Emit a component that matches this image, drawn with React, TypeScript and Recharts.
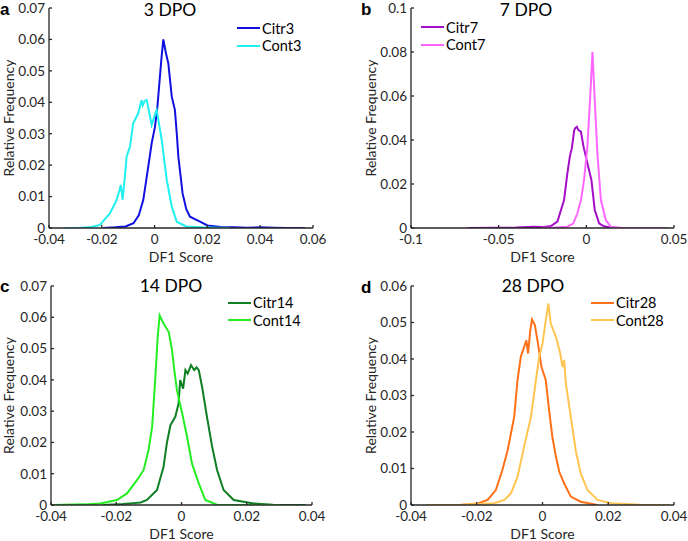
import React from 'react';
import { LineChart, Line, XAxis, YAxis, Legend, Label } from 'recharts';

type Pt = [number, number];

// ---- data (DF1 score, relative frequency) ----
const citr3: Pt[] = [[-0.0195,0],[-0.015,0.0002],[-0.011,0.0005],[-0.008,0.0015],[-0.006,0.004],[-0.0043,0.0089],[-0.0024,0.0195],[-0.0011,0.027],[0.0001,0.032],[0.001,0.038],[0.0018,0.046],[0.0026,0.054],[0.0033,0.06],[0.0042,0.056],[0.0052,0.0524],[0.0065,0.0418],[0.0077,0.0375],[0.0084,0.03],[0.009,0.0227],[0.0106,0.011],[0.012,0.006],[0.0134,0.0036],[0.0172,0.002],[0.02,0.0008],[0.025,0.0003],[0.03,0.0002],[0.035,0.0001],[0.04,0.0002],[0.045,0.0001],[0.05,0],[0.057,0]];
const cont3: Pt[] = [[-0.034,0],[-0.028,0.0001],[-0.024,0.0003],[-0.0207,0.001],[-0.0169,0.0047],[-0.0144,0.0089],[-0.0133,0.012],[-0.0128,0.0137],[-0.0121,0.009],[-0.0113,0.016],[-0.0106,0.0227],[-0.0093,0.026],[-0.0081,0.0333],[-0.0062,0.0365],[-0.0049,0.0407],[-0.0045,0.039],[-0.0037,0.0405],[-0.003,0.0407],[-0.0011,0.0328],[0.0003,0.0365],[0.0008,0.0375],[0.0015,0.034],[0.0027,0.028],[0.0046,0.0153],[0.0065,0.0068],[0.0084,0.002],[0.012,0.0005],[0.018,0.0002],[0.024,0.0001],[0.0286,0]];
const citr7: Pt[] = [[-0.0677,0],[-0.05,0.0001],[-0.04,0.0002],[-0.03,0.0006],[-0.025,0.0004],[-0.0202,0.0009],[-0.0165,0.0029],[-0.0127,0.0127],[-0.0108,0.0249],[-0.0095,0.032],[-0.0088,0.0347],[-0.0083,0.036],[-0.0069,0.0445],[-0.0062,0.0455],[-0.0054,0.046],[-0.0045,0.0445],[-0.0031,0.0438],[-0.0016,0.037],[0.0006,0.0294],[0.0029,0.0218],[0.0048,0.0082],[0.0073,0.0021],[0.01,0.0008],[0.013,0.0003],[0.018,0]];
const cont7: Pt[] = [[-0.026,0],[-0.018,0.0002],[-0.0108,0.0006],[-0.0075,0.002],[-0.0051,0.0067],[-0.003,0.013],[-0.0013,0.0218],[0.0006,0.037],[0.0021,0.058],[0.0035,0.08],[0.0048,0.058],[0.0063,0.034],[0.0083,0.0127],[0.0111,0.0036],[0.014,0.0005],[0.02,0.0001],[0.03,0],[0.046,0]];
const citr14: Pt[] = [[-0.024,0],[-0.018,0.0003],[-0.0147,0.0006],[-0.0125,0.0008],[-0.0106,0.0016],[-0.0075,0.0048],[-0.0055,0.0122],[-0.0045,0.0197],[-0.0034,0.0255],[-0.0019,0.0282],[-0.0009,0.0324],[-0.0004,0.0399],[0.0005,0.0372],[0.0012,0.0431],[0.0019,0.042],[0.0029,0.0447],[0.0039,0.0431],[0.0046,0.044],[0.0053,0.0431],[0.0063,0.0378],[0.0078,0.0282],[0.0094,0.0186],[0.0109,0.0112],[0.0129,0.0048],[0.016,0.0016],[0.0221,0.0005],[0.028,0.0001],[0.038,0]];
const cont14: Pt[] = [[-0.0397,0],[-0.03,0.0002],[-0.0249,0.0005],[-0.0198,0.0016],[-0.0167,0.0037],[-0.0136,0.008],[-0.0116,0.0112],[-0.0101,0.0176],[-0.009,0.025],[-0.008,0.041],[-0.0073,0.0537],[-0.0067,0.0606],[-0.0055,0.058],[-0.0039,0.0553],[-0.0029,0.0495],[-0.0022,0.0431],[-0.0014,0.0367],[0.0002,0.0293],[0.0017,0.0218],[0.0032,0.0133],[0.0053,0.0069],[0.0073,0.0016],[0.0109,0.0001],[0.02,0],[0.03,0]];
const citr28: Pt[] = [[-0.0248,0],[-0.0197,0.0004],[-0.0167,0.0014],[-0.0142,0.0041],[-0.0122,0.0096],[-0.0106,0.015],[-0.0086,0.0242],[-0.0076,0.0342],[-0.0066,0.0406],[-0.0056,0.0433],[-0.0049,0.0451],[-0.0044,0.0415],[-0.0037,0.0479],[-0.0032,0.0508],[-0.0023,0.0492],[-0.0013,0.0438],[-0.0003,0.0378],[0.001,0.0342],[0.002,0.026],[0.003,0.0187],[0.0041,0.0132],[0.0051,0.0091],[0.0066,0.0059],[0.0086,0.0023],[0.0116,0.0009],[0.0167,0]];
const cont28: Pt[] = [[-0.0354,0],[-0.025,0.0001],[-0.0147,0.0005],[-0.0116,0.0014],[-0.0096,0.0032],[-0.0076,0.0077],[-0.0056,0.016],[-0.0035,0.0242],[-0.002,0.0342],[-0.001,0.0406],[0,0.0442],[0.001,0.0506],[0.0018,0.0552],[0.0025,0.0497],[0.0041,0.046],[0.0054,0.0415],[0.0061,0.0378],[0.0066,0.0397],[0.0071,0.0333],[0.0086,0.0242],[0.0101,0.015],[0.0116,0.0087],[0.0137,0.0041],[0.0167,0.0014],[0.0208,0.0005],[0.03,0.0001],[0.0385,0]];

// ---- ticks ----
const xTicksA = [-0.04, -0.02, 0, 0.02, 0.04, 0.06];
const yTicksA = [0, 0.01, 0.02, 0.03, 0.04, 0.05, 0.06, 0.07];
const xTicksB = [-0.1, -0.05, 0, 0.05];
const yTicksB = [0, 0.02, 0.04, 0.06, 0.08, 0.1];
const xTicksC = [-0.04, -0.02, 0, 0.02, 0.04];
const yTicksC = [0, 0.01, 0.02, 0.03, 0.04, 0.05, 0.06, 0.07];
const xTicksD = [-0.04, -0.02, 0, 0.02, 0.04];
const yTicksD = [0, 0.01, 0.02, 0.03, 0.04, 0.05, 0.06];

const toRows = (pts: Pt[]) => pts.map(([x, y]) => ({ x, y }));

const FONT = 'Lato, "Noto Sans", sans-serif';
const AXIS = '#262626';

const renderLegend = (props: any) => {
  const { payload } = props;
  return (
    <div style={{ fontFamily: FONT }}>
      {(payload || []).map((p: any) => (
        <div key={p.value} style={{ display: 'flex', alignItems: 'center', height: 17.5 }}>
          <svg width={23} height={4} style={{ display: 'block' }}>
            <line x1={0} y1={2} x2={23} y2={2} stroke={p.color} strokeWidth={2} />
          </svg>
          <span style={{ marginLeft: 2, fontSize: 14.5, color: '#000', lineHeight: '17.5px' }}>{p.value}</span>
        </div>
      ))}
    </div>
  );
};

type PanelProps = {
  left: number; top: number; width: number; height: number;
  margin: { top: number; right: number; left: number; bottom: number };
  xAxisHeight: number;
  xDomain: [number, number]; yDomain: [number, number];
  xTicks: number[]; yTicks: number[];
  series: { name: string; color: string; pts: Pt[] }[];
  legendPos: { left: number; top: number };
  yLabelOffset: number; xLabelOffset: number;
};

function Panel(p: PanelProps) {
  return (
    <div style={{ position: 'absolute', left: p.left, top: p.top }}>
      <LineChart width={p.width} height={p.height} margin={p.margin}>
        <XAxis
          dataKey="x" type="number" domain={p.xDomain} ticks={p.xTicks} allowDataOverflow
          height={p.xAxisHeight} stroke={AXIS} strokeWidth={1.3}
          tickSize={-3} tickMargin={9}
          tick={{ fill: AXIS, fontSize: 13.5, fontFamily: FONT }}
        >
          <Label value="DF1 Score" position="insideBottom" offset={p.xLabelOffset}
            style={{ fill: AXIS, fontSize: 14, fontFamily: FONT }} />
        </XAxis>
        <YAxis
          dataKey="y" type="number" domain={p.yDomain} ticks={p.yTicks} allowDataOverflow
          width={40} stroke={AXIS} strokeWidth={1.3}
          tickSize={-3} tickMargin={7}
          tick={{ fill: AXIS, fontSize: 13.5, fontFamily: FONT }}
        >
          <Label value="Relative Frequency" angle={-90} position="insideLeft" offset={p.yLabelOffset}
            style={{ fill: AXIS, fontSize: 14, fontFamily: FONT, textAnchor: 'middle' }} />
        </YAxis>
        {p.series.map((s) => (
          <Line key={s.name} name={s.name} data={toRows(s.pts)} dataKey="y" type="linear"
            stroke={s.color} strokeWidth={2} dot={false} activeDot={false} isAnimationActive={false} />
        ))}
        <Legend layout="vertical" align="center" verticalAlign="middle" content={renderLegend}
          wrapperStyle={{ left: p.legendPos.left, top: p.legendPos.top, width: 'auto', height: 'auto' }} />
      </LineChart>
    </div>
  );
}

const titles = [
  { t: '3 DPO', x: 170, y: 15.5 },
  { t: '7 DPO', x: 526, y: 15.5 },
  { t: '14 DPO', x: 171, y: 291.5 },
  { t: '28 DPO', x: 533, y: 291.5 },
];
const letters = [
  { t: 'a', x: 0, y: 15 },
  { t: 'b', x: 361, y: 15 },
  { t: 'c', x: 0, y: 292 },
  { t: 'd', x: 361, y: 293 },
];

export default function App() {
  return (
    <div style={{ position: 'absolute', left: 0, top: 0, width: 688, height: 541, background: '#fff', overflow: 'hidden' }}>
      <Panel left={0} top={0} width={344} height={270}
        margin={{ top: 8, right: 31, left: 9, bottom: 0 }} xAxisHeight={42}
        xDomain={[-0.04, 0.06]} yDomain={[0, 0.07]} xTicks={xTicksA} yTicks={yTicksA}
        series={[{ name: 'Citr3', color: '#1010E0', pts: citr3 }, { name: 'Cont3', color: '#20F0F0', pts: cont3 }]}
        legendPos={{ left: 237, top: 19.5 }} yLabelOffset={0} xLabelOffset={8} />
      <Panel left={344} top={0} width={344} height={270}
        margin={{ top: 8, right: 14, left: 27, bottom: 0 }} xAxisHeight={42}
        xDomain={[-0.1, 0.05]} yDomain={[0, 0.1]} xTicks={xTicksB} yTicks={yTicksB}
        series={[{ name: 'Citr7', color: '#A50DC8', pts: citr7 }, { name: 'Cont7', color: '#FF66FF', pts: cont7 }]}
        legendPos={{ left: 77, top: 18.5 }} yLabelOffset={0} xLabelOffset={8} />
      <Panel left={0} top={270} width={344} height={271}
        margin={{ top: 16, right: 32, left: 11, bottom: 0 }} xAxisHeight={36}
        xDomain={[-0.04, 0.04]} yDomain={[0, 0.07]} xTicks={xTicksC} yTicks={yTicksC}
        series={[{ name: 'Citr14', color: '#0E7F22', pts: citr14 }, { name: 'Cont14', color: '#22EE22', pts: cont14 }]}
        legendPos={{ left: 228, top: 24 }} yLabelOffset={-2} xLabelOffset={2} />
      <Panel left={344} top={270} width={344} height={271}
        margin={{ top: 16, right: 14, left: 27, bottom: 0 }} xAxisHeight={36}
        xDomain={[-0.04, 0.04]} yDomain={[0, 0.06]} xTicks={xTicksD} yTicks={yTicksD}
        series={[{ name: 'Citr28', color: '#FF7019', pts: citr28 }, { name: 'Cont28', color: '#FFC550', pts: cont28 }]}
        legendPos={{ left: 247, top: 24 }} yLabelOffset={0} xLabelOffset={2} />
      <svg width={688} height={541} style={{ position: 'absolute', left: 0, top: 0, pointerEvents: 'none' }}>
        {titles.map((d) => (
          <text key={d.t} x={d.x} y={d.y} textAnchor="middle" fontFamily={FONT} fontSize={17.5} fill="#000">{d.t}</text>
        ))}
        {letters.map((d) => (
          <text key={d.t} x={d.x} y={d.y} fontFamily='"Liberation Sans", Arial, sans-serif' fontWeight="bold" fontSize={17} fill="#000">{d.t}</text>
        ))}
      </svg>
    </div>
  );
}
